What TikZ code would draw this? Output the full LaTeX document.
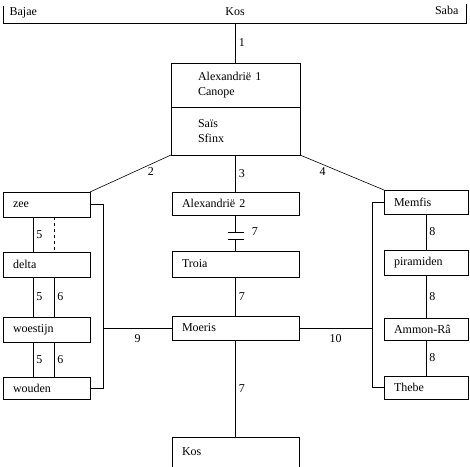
\documentclass[tikz,border=0pt]{standalone}
\usepackage{fontspec}
\setmainfont{Liberation Serif}
\usetikzlibrary{calc,positioning}

\tikzset{
  place/.style={draw, anchor=north west, inner xsep=10pt, inner ysep=0pt, outer sep=0pt,
    align=left, minimum height=25pt},
  leftbox/.style={place, text width=67pt},
  midbox/.style={place, text width=107pt},
  rightbox/.style={place, text width=64pt},
  topbox/.style={place, inner xsep=27pt, text width=75pt},
  num/.style={inner sep=3pt}
}

\begin{document}
\begin{tikzpicture}[x=1pt, y=-1pt, line width=0.6pt, font=\fontsize{12}{14.5}\selectfont]
    \useasboundingbox (0,0) rectangle (470,466);
    \node[anchor=west] (bajae) at (6,13) {Bajae};
    \node (kostext) at (235,12) {Kos};
    \node[anchor=east] (saba) at (462,10) {Saba};
    \coordinate (kosleft) at (3,23);
    \coordinate (kosmid) at (235.5,23);
    \coordinate (kosright) at (466,23);
    \draw (3,6) -- (kosleft) -- (kosright) -- (466,4);

    \node[topbox, minimum height=44pt] (alexa) at (171,63) {Alexandrië 1\\Canope};
    \node[topbox, minimum height=48pt] (sais) at (alexa.south west) {Saïs\\Sfinx};
    \draw (kosmid) -- (alexa.north) node[midway, right, num] {1};

    \node[leftbox] (zee) at (3,192) {zee};
    \node[leftbox] (delta) at (3,252) {delta};
    \node[leftbox] (woestijn) at (3,317) {woestijn};
    \node[leftbox, minimum height=22pt] (wouden) at (3,377) {wouden};

    \node[midbox, minimum height=23pt] (alexb) at (172,192) {Alexandrië 2};
    \node[midbox, minimum height=26pt] (troia) at (172,251) {Troia};
    \node[midbox, minimum height=24pt] (moeris) at (172,316) {Moeris};
    \node[midbox, draw=none, minimum height=30pt] (kos) at (172,437) {Kos};
    \draw (kos.south west) -- (kos.north west) -- (kos.north east) -- (kos.south east);

    \node[rightbox, minimum height=24pt] (memfis) at (384,190) {Memfis};
    \node[rightbox] (piramiden) at (384,250) {piramiden};
    \node[rightbox, minimum height=22pt] (ammon) at (384,318) {Ammon-Râ};
    \node[rightbox, minimum height=23pt] (thebe) at (384,376) {Thebe};

    \draw (sais.south west) -- (zee.north east) node[pos=0.25, below, num] {2};
    \draw (sais.south) -- (alexb.north) node[midway, right, num] {3};
    \draw (sais.south east) -- (memfis.north west) node[pos=0.27, below, num] {4};

    \coordinate (breaka) at ($(alexb.south)+(0,17)$);
    \coordinate (breakb) at ($(alexb.south)+(0,24)$);
    \draw (alexb.south) -- (breaka);
    \draw (breakb) -- (troia.north);
    \draw ($(breaka)+(-8,0)$) -- ($(breaka)+(8,0)$) node[right=5pt, num] {7};
    \draw ($(breakb)+(-8,0)$) -- ($(breakb)+(8,0)$);
    \draw (troia.south) -- (moeris.north) node[midway, right, num] {7};
    \draw (moeris.south) -- (kos.north) node[midway, right, num] {7};

    \draw ($(zee.south west)+(30,0)$) -- ($(delta.north west)+(30,0)$) node[midway, right, num] {5};
    \draw[dashed] ($(zee.south west)+(51,0)$) -- ($(delta.north west)+(51,0)$);
    \foreach \a/\b in {delta/woestijn, woestijn/wouden} {
      \draw ($(\a.south west)+(30,0)$) -- ($(\b.north west)+(30,0)$) node[midway, right, num] {5};
      \draw ($(\a.south west)+(51,0)$) -- ($(\b.north west)+(51,0)$) node[midway, right, num] {6};
    }
    \foreach \a/\b in {memfis/piramiden, piramiden/ammon, ammon/thebe}
      \draw (\a.south) -- (\b.north) node[midway, right, num] {8};

    \coordinate (leftbar) at ($(zee.east)+(13,0)$);
    \coordinate (rightbar) at ($(memfis.west)+(-12,0)$);
    \draw (zee.east) -- (leftbar) |- (wouden.east);
    \draw (memfis.west) -- (rightbar) |- (thebe.west);
    \draw (moeris.west) -- (moeris.west -| leftbar) node[midway, below=3pt, num] {9};
    \draw (moeris.east) -- (moeris.east -| rightbar) node[midway, below=3pt, num] {10};
  \end{tikzpicture}
\end{document}
